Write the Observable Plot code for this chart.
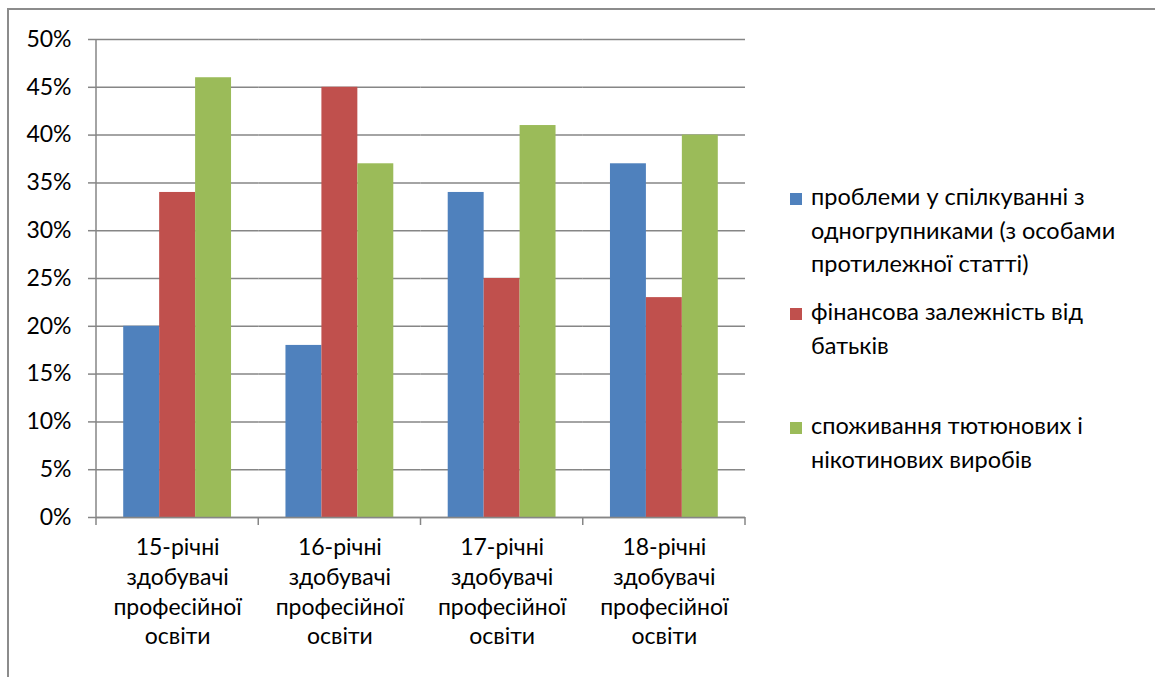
<!DOCTYPE html>
<html>
<head>
<meta charset="utf-8">
<script src="https://cdn.jsdelivr.net/npm/d3@7"></script>
<script src="https://cdn.jsdelivr.net/npm/@observablehq/plot@0.6"></script>
<style>
  html, body { margin: 0; padding: 0; background: #fff; width: 1155px; height: 677px; overflow: hidden; }
  #frame { position: absolute; left: 7px; top: 8px; width: 1300px; height: 800px;
           border-top: 2px solid #8c8c8c; border-left: 2px solid #8c8c8c; box-sizing: border-box; }
  #chart { position: absolute; left: 0; top: 0; }
  .legend { position: absolute; left: 790px; font-family: Lato, "Open Sans", sans-serif; font-size: 23.5px; color: #000; }
  .legend .sw { position: absolute; left: 0; width: 12px; height: 12px; }
  .legend .tx { position: absolute; left: 21px; white-space: pre; line-height: 33.5px; }
</style>
</head>
<body>
<div id="frame"></div>
<div id="chart"></div>
<div class="legend" id="legend"></div>
<script>
// ---- data ----
const categories = ["15-річні", "16-річні", "17-річні", "18-річні"];
const categoryLabels = [
  "15-річні\nздобувачі\nпрофесійної\nосвіти",
  "16-річні\nздобувачі\nпрофесійної\nосвіти",
  "17-річні\nздобувачі\nпрофесійної\nосвіти",
  "18-річні\nздобувачі\nпрофесійної\nосвіти"
];
const seriesNames = [
  "проблеми у спілкуванні з одногрупниками (з особами протилежної статті)",
  "фінансова залежність від батьків",
  "споживання тютюнових і нікотинових виробів"
];
const legendLabels = [
  "проблеми у спілкуванні з\nодногрупниками (з особами\nпротилежної статті)",
  "фінансова залежність від\nбатьків",
  "споживання тютюнових і\nнікотинових виробів"
];
const communicationProblems = [20, 18, 34, 37];
const financialDependence = [34, 45, 25, 23];
const tobaccoUse = [46, 37, 41, 40];
const yTicks = [0, 0.05, 0.10, 0.15, 0.20, 0.25, 0.30, 0.35, 0.40, 0.45, 0.50];
const colors = ["#4F81BD", "#C0504D", "#9BBB59"];

const seriesValues = [communicationProblems, financialDependence, tobaccoUse];
const data = categories.flatMap((c, i) =>
  seriesNames.map((s, j) => ({category: c, series: s, value: seriesValues[j][i] / 100}))
);
const labelOf = new Map(categories.map((c, i) => [c, categoryLabels[i]]));

const gridColor = "#868686";
const fontSize = 23;
const chart = Plot.plot({
  width: 760,
  height: 677,
  marginLeft: 96,
  marginRight: 15,
  marginTop: 39,
  marginBottom: 160,
  style: {fontFamily: 'Lato, "Open Sans", sans-serif', fontSize: fontSize + "px", color: "#000", background: "transparent"},
  fx: {domain: categories, padding: 0, round: false, label: null, axis: null},
  x: {domain: seriesNames, paddingInner: 0, paddingOuter: 0.757, round: false, axis: null},
  y: {domain: [0, 0.5], label: null, axis: null},
  color: {domain: seriesNames, range: colors},
  marks: [
    Plot.gridY(yTicks, {stroke: gridColor, strokeOpacity: 1, strokeWidth: 1.5}),
    Plot.barY(data, {fx: "category", x: "series", y: "value", fill: "series"}),
    Plot.ruleY([0], {stroke: gridColor, strokeWidth: 1.5}),
    Plot.axisY(yTicks, {tickFormat: d3.format(".0%"), tickSize: 8, tickPadding: 17, stroke: gridColor, strokeWidth: 1.5, fill: "#000", fontSize, label: null}),
    Plot.axisFx({anchor: "bottom", tickSize: 0, tickPadding: 16, lineHeight: 1.3, fontSize, fill: "#000", label: null, tickFormat: d => labelOf.get(d)})
  ]
});
document.getElementById("chart").appendChild(chart);

// boundary ticks on the category axis and the left axis line, from the plot's own scales
const fx = chart.scale("fx");
const y = chart.scale("y");
const y0 = y.apply(0), yTop = y.apply(0.5);
const edges = categories.map(c => fx.apply(c)).concat([fx.apply(categories[categories.length - 1]) + fx.bandwidth]);
const g = d3.select(chart).append("g").attr("stroke", gridColor).attr("stroke-width", 1.5);
edges.forEach(x => g.append("line").attr("x1", x).attr("x2", x).attr("y1", y0).attr("y2", y0 + 8));
g.append("line").attr("x1", edges[0]).attr("x2", edges[0]).attr("y1", yTop).attr("y2", y0);

// legend
const legendTops = [180, 295, 409];
const legend = document.getElementById("legend");
legendLabels.forEach((t, i) => {
  const sw = document.createElement("div");
  sw.className = "sw";
  sw.style.top = (legendTops[i] + 13) + "px";
  sw.style.background = colors[i];
  legend.appendChild(sw);
  const tx = document.createElement("div");
  tx.className = "tx";
  tx.style.top = legendTops[i] + "px";
  tx.textContent = t;
  legend.appendChild(tx);
});
</script>
</body>
</html>
